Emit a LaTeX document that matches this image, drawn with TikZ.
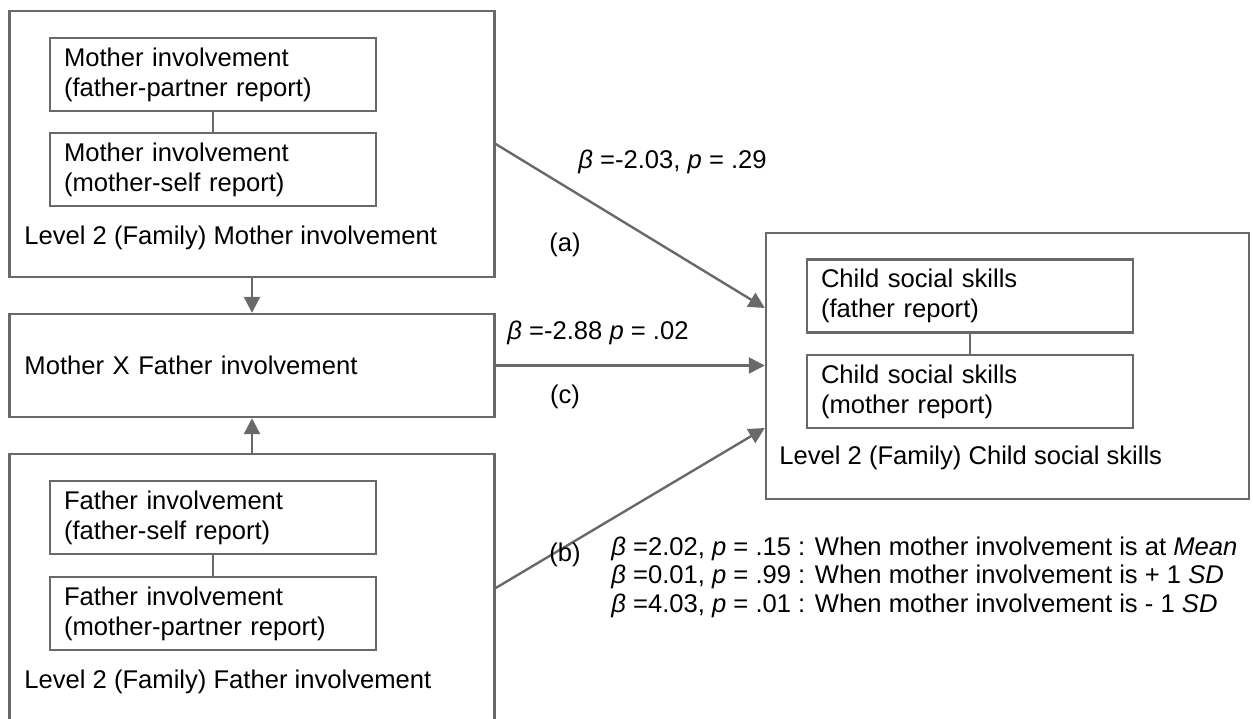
\documentclass[tikz,border=0pt]{standalone}
\usepackage{fontspec}
\setmainfont{Liberation Sans}
\usetikzlibrary{arrows.meta}
\definecolor{linegray}{RGB}{105,105,105}
\tikzstyle{arrow} = [-{Triangle[length=8pt,width=8pt]},draw=linegray,line width=1.2pt]
\tikzstyle{link} = [draw=linegray,line width=1.2pt]
\tikzstyle{outer} = [draw=linegray,line width=1.2pt,rectangle,minimum width=242.5pt,inner sep=0pt]
\tikzstyle{inner} = [draw=linegray,line width=1.2pt,rectangle,text width=149pt,inner xsep=7pt,inner ysep=0pt,minimum height=36.5pt,align=left]
\tikzstyle{txt} = [anchor=west,inner sep=0pt]

\begin{document}
\begin{tikzpicture}[x=0.5pt,y=-0.5pt,font=\fontsize{12.8}{15}\selectfont]
          \clip (0,0) rectangle (1253,718);
          % mother involvement
          \node[outer, minimum height=133pt] at (252,144) (mother) {};
          \node[inner] at (213,74.5) (motherFP) {Mother involvement\\(father-partner report)};
          \node[inner] at (213,169.5) (motherMS) {Mother involvement\\(mother-self report)};
          \node[txt] at (24,238) (motherlbl) {Level 2 (Family) Mother involvement};

          % interaction
          \node[outer, minimum height=51.5pt, text width=227.5pt, inner xsep=7.5pt, align=left] at (252,365.5) (mxf) {Mother X Father involvement};

          % father involvement
          \node[outer, minimum height=134pt] at (252,588) (father) {};
          \node[inner] at (213,517.5) (fatherFS) {Father involvement\\(father-self report)};
          \node[inner] at (213,613.5) (fatherMP) {Father involvement\\(mother-partner report)};
          \node[txt] at (24,682) (fatherlbl) {Level 2 (Family) Father involvement};

          % child social skills
          \node[outer, minimum width=241.5pt, minimum height=133pt] at (1007.5,366) (child) {};
          \node[inner] at (970,296) (childF) {Child social skills\\(father report)};
          \node[inner] at (970,391.5) (childM) {Child social skills\\(mother report)};
          \node[txt] at (779,458) (childlbl) {Level 2 (Family) Child social skills};

          \draw[link] (motherFP) -- (motherMS);
          \draw[link] (fatherFS) -- (fatherMP);
          \draw[link] (childF) -- (childM);

          \draw[arrow] (mother) -- (mxf);
          \draw[arrow] (father) -- (mxf);
          \draw[arrow] (mother.east) -- ([yshift=29pt]child.west);
          \draw[arrow] (mxf.east) -- (mxf.east -| child.west);
          \draw[arrow] (father.east) -- ([yshift=-31pt]child.west);

          % path labels
          \node[txt] at (578,162) (betaA) {\textit{β} =-2.03, \textit{p} = .29};
          \node at (565,245) (tagA) {(a)};
          \node[txt] at (507,333) (betaC) {\textit{β} =-2.88 \textit{p} = .02};
          \node at (565,397) (tagC) {(c)};
          \node at (565,555) (tagB) {(b)};
          \node[txt, align=left, font=\fontsize{12.8}{14.25}\selectfont] at (611,577) (betaB) {\textit{β} =2.02, \textit{p} = .15 : When mother involvement is at \textit{Mean}\\
            \textit{β} =0.01, \textit{p} = .99 : When mother involvement is + 1 \textit{SD}\\
            \textit{β} =4.03, \textit{p} = .01 : When mother involvement is - 1 \textit{SD}};
        \end{tikzpicture}
\end{document}
